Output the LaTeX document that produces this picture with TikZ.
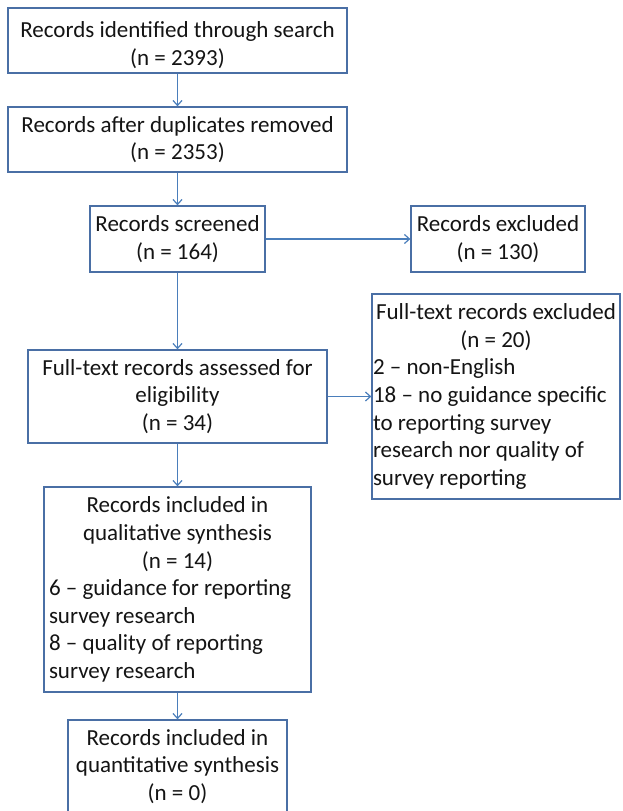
\documentclass[tikz,border=0pt]{standalone}
\usepackage{fontspec}
\setmainfont{Carlito}
\usetikzlibrary{arrows.meta}
\definecolor{boxblue}{HTML}{4A6FA5}
\definecolor{arrowblue}{HTML}{4A7EBB}
\definecolor{txt}{HTML}{141414}
\newcommand\lftA[1]{\makebox[246pt][l]{#1}}
\newcommand\lftB[1]{\makebox[257pt][l]{#1}}
\begin{document}
\begin{tikzpicture}[x=1pt,y=-1pt,
  box/.style={draw=boxblue, line width=1.3pt, fill=white, inner sep=0pt, align=center, text=txt, font=\fontsize{23}{27.6}\selectfont},
  arr/.style={draw=arrowblue, line width=1.2pt, -{Straight Barb[length=5pt,width=9pt]}}
]
\useasboundingbox (0,0) rectangle (622,811);
\clip (0,0) rectangle (622,811);
\fill[white] (0,0) rectangle (622,811);
\node[box, minimum width=339pt, minimum height=65pt] (b1) at (177.5,40.5) {\rule{0pt}{25pt}Records identified through search\\(n = 2393)};
\node[box, minimum width=339pt, minimum height=65pt] (b2) at (177.5,139.5) {Records after duplicates removed\\(n = 2353)};
\node[box, minimum width=175pt, minimum height=66pt] (b3) at (177.5,239) {Records screened\\(n = 164)};
\node[box, minimum width=174pt, minimum height=66pt] (ex1) at (498,239) {Records excluded\\(n = 130)};
\node[box, minimum width=248pt, minimum height=205pt] (fte) at (496,396.5) {Full-text records excluded\\(n = 20)\\\lftA{2 – non-English}\\\lftA{18 – no guidance specific}\\\lftA{to reporting survey}\\\lftA{research nor quality of}\\\lftA{survey reporting}};
\node[box, minimum width=299pt, minimum height=93pt] (a) at (177.5,396.5) {Full-text records assessed for\\eligibility\\(n = 34)};
\node[box, minimum width=267pt, minimum height=205pt] (q) at (177.5,589.5) {Records included in\\qualitative synthesis\\(n = 14)\\\lftB{6 – guidance for reporting}\\\lftB{survey research}\\\lftB{8 – quality of reporting}\\\lftB{survey research}};
\node[box, minimum width=219pt, minimum height=93pt] (qn) at (177.5,766.5) {Records included in\\quantitative synthesis\\(n = 0)};
\draw[arr] (b1) -- (b2);
\draw[arr] (b2) -- (b3);
\draw[arr] (b3) -- (ex1);
\draw[arr] (b3) -- (a);
\draw[arr] (a) -- (fte);
\draw[arr] (a) -- (q);
\draw[arr] (q) -- (qn);
\end{tikzpicture}
\end{document}
